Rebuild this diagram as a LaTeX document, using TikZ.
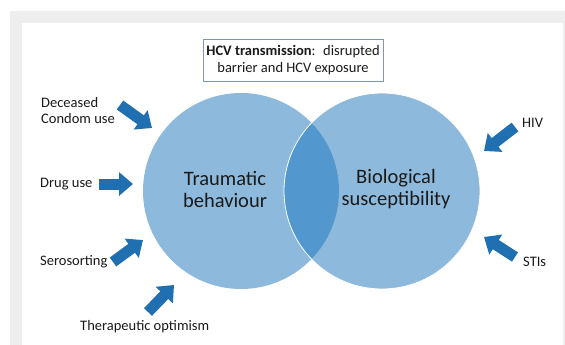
\documentclass[tikz,border=0pt]{standalone}
\usepackage{fontspec}
\setmainfont{Carlito}
\usetikzlibrary{arrows.meta}
\definecolor{framegrey}{HTML}{EEEEEE}
\definecolor{circblue}{HTML}{8DBADC}
\definecolor{lensblue}{HTML}{5298CE}
\definecolor{arrblue}{HTML}{1F6FB1}
\definecolor{boxedge}{HTML}{7F98B2}
\definecolor{txt}{HTML}{1A1A1A}
\tikzset{
  lbl/.style={font=\fontsize{14.5}{16}\selectfont, text=txt, inner sep=0pt, align=left},
  bigtxt/.style={font=\fontsize{20.5}{22}\selectfont, text=txt, align=center, inner sep=0pt},
  blockarrow/.style={draw=arrblue, line width=11pt, -{Triangle[width=23pt,length=14pt]}, color=arrblue},
  titlebox/.style={draw=boxedge, line width=0.9pt, fill=white, minimum width=180pt, minimum height=42pt, align=center, inner sep=2pt, font=\fontsize{14.5}{16.5}\selectfont, text=txt}
}
\begin{document}
\begin{tikzpicture}[x=1pt,y=-1pt]
\useasboundingbox (0,0) rectangle (565,345);
\fill[white] (0,0) rectangle (565,345);
\fill[framegrey] (10,11) rectangle (565,345);
\fill[white] (22,23) rectangle (562.5,345);
% circles
\fill[circblue] (241,191) circle (98);
\fill[circblue] (382,191) circle (98);
\begin{scope}
  \clip (241,191) circle (98);
  \fill[lensblue] (382,191) circle (98);
\end{scope}
\draw[white, line width=0.8pt] (382,191) circle (98);
\node[bigtxt] (trauma) at (225,189) {Traumatic\\behaviour};
\node[bigtxt] (bio) at (396,189) {Biological\\susceptibility};
% title
\node[titlebox] (title) at (293,60) {\textbf{HCV transmission}:~ disrupted\\barrier and HCV exposure};
% labels
\node[lbl, anchor=west] (cond) at (41,111) {Deceased\\Condom use};
\node[lbl, anchor=west] (drug) at (40,184) {Drug use};
\node[lbl, anchor=west] (sero) at (40,262) {Serosorting};
\node[lbl, anchor=west] (thera) at (80,327) {Therapeutic optimism};
\node[lbl, anchor=west] (hiv) at (522,123) {HIV};
\node[lbl, anchor=west] (sti) at (523,262) {STIs};
% arrow ends
\coordinate (c1) at (120,105); \coordinate (c2) at (152,128);
\coordinate (d1) at (99,184);  \coordinate (d2) at (133,184);
\coordinate (s1) at (113,262); \coordinate (s2) at (143,240);
\coordinate (t1) at (148,312); \coordinate (t2) at (174,285);
\coordinate (h1) at (515,127); \coordinate (h2) at (484,151);
\coordinate (i1) at (515,257); \coordinate (i2) at (484,237);
\foreach \a/\b in {c1/c2,d1/d2,s1/s2,t1/t2,h1/h2,i1/i2}
  \draw[blockarrow] (\a) -- (\b);
\end{tikzpicture}
\end{document}
